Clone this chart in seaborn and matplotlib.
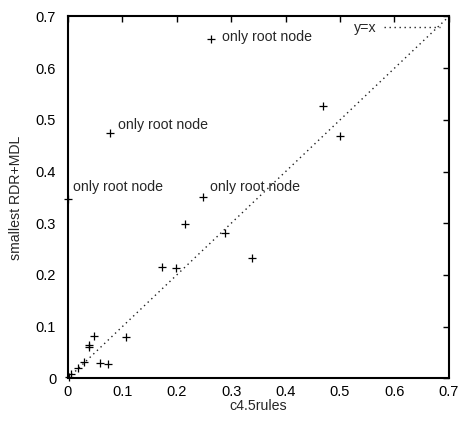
import matplotlib
matplotlib.use("Agg")
import matplotlib.pyplot as plt
import seaborn as sns
import pandas as pd

# data
c45 = [0.263, 0.077, 0.000, 0.249, 0.468, 0.500, 0.215, 0.289, 0.339, 0.172,
       0.199, 0.106, 0.047, 0.039, 0.039, 0.029, 0.019, 0.059, 0.073, 0.006, 0.002]
rdr = [0.656, 0.475, 0.347, 0.350, 0.527, 0.468, 0.299, 0.282, 0.233, 0.215,
       0.213, 0.079, 0.082, 0.065, 0.060, 0.032, 0.020, 0.029, 0.027, 0.008, 0.003]
label_idx = [0, 1, 2, 3]
label_text = "only root node"
diag = [0.0, 0.7]
xticks = [0, 0.1, 0.2, 0.3, 0.4, 0.5, 0.6, 0.7]
yticks = [0, 0.1, 0.2, 0.3, 0.4, 0.5, 0.6, 0.7]

sns.set_style("white")
plt.rcParams['font.family'] = ['Liberation Sans', 'DejaVu Sans']

fig = plt.figure(figsize=(4.59, 4.23), dpi=100)
ax = fig.add_axes([0.148, 0.1057, 0.978 - 0.148, 0.961 - 0.1057])

df = pd.DataFrame({"c45": c45, "rdr": rdr})
sns.scatterplot(data=df, x="c45", y="rdr", ax=ax, marker="+", color="black",
                s=34, linewidth=0.9, clip_on=False, zorder=3, legend=False)
sns.lineplot(x=diag, y=diag, ax=ax, color="#222222", linestyle=(0, (1, 2.6)),
             linewidth=1.0, label="y=x")

# label offsets in pixels (dx, dy)
offsets = [(11, 2), (8, 8), (5, 12), (7, 10)]
for i, (dx, dy) in zip(label_idx, offsets):
    ax.annotate(label_text, (c45[i], rdr[i]), xytext=(dx * 0.72, dy * 0.72),
                textcoords="offset points", ha="left", va="center", fontsize=10.2)

ax.set_xlim(0, 0.7)
ax.set_ylim(0, 0.7)
ax.set_xticks(xticks)
ax.set_yticks(yticks)
ax.set_xticklabels(["0" if v == 0 else f"{v:.1f}" for v in xticks])
ax.set_yticklabels(["0" if v == 0 else f"{v:.1f}" for v in yticks])
ax.tick_params(direction="in", length=4, width=1, top=True, right=True,
               labelsize=10.5, colors="black")
ax.tick_params(axis="x", pad=4.5)
ax.tick_params(axis="y", pad=8.5)
for sp in ax.spines.values():
    sp.set_linewidth(1.5)
    sp.set_color("black")

ax.set_xlabel("c4.5rules", fontsize=10.2, labelpad=0.5)
ax.set_ylabel("smallest RDR+MDL", fontsize=10.2, labelpad=9)

leg = ax.legend(loc="upper right", bbox_to_anchor=(1.0, 1.012), frameon=False,
                markerfirst=False, handlelength=4.0, fontsize=10.2,
                borderaxespad=0.2, handletextpad=0.5)

fig.savefig("out.png", dpi=100)
